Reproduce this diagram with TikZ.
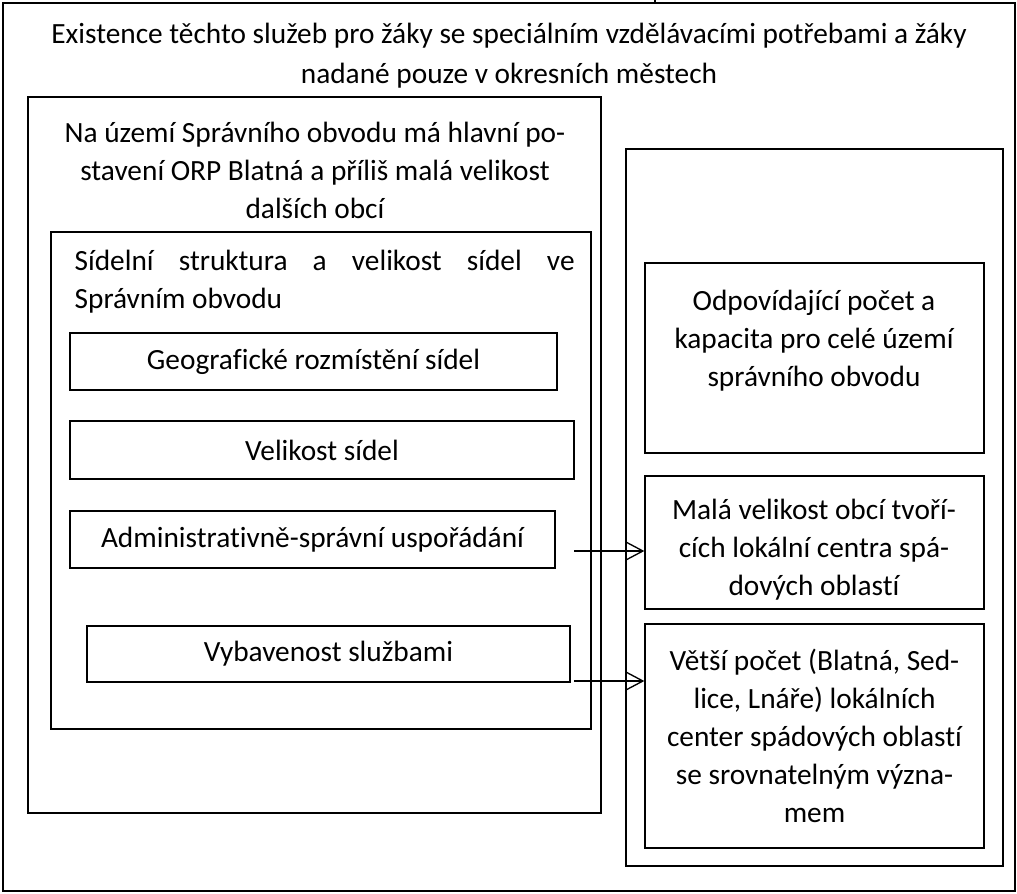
\documentclass[tikz,border=0pt]{standalone}
\usepackage{fontspec}
\setmainfont{Carlito}[Ligatures=CommonOff]
\usepackage{tikz}
\usetikzlibrary{fit, arrows.meta}

\begin{document}
\begin{tikzpicture}[x=0.75pt, y=-0.75pt, line width=1pt,
    font=\fontsize{22}{28.5}\selectfont,
    box/.style={draw, inner sep=0pt},
    txt/.style={inner sep=0pt, align=center},
    arr/.style={-{Straight Barb[length=12.75pt, width=13.5pt]}}]
    \useasboundingbox (0,0) rectangle (1017,893);

    \node[box, fit={(3,3) (1015,891)}] (outer) {};
    \node[txt, font=\fontsize{22}{30}\selectfont](title) at (509,56) {Existence těchto služeb pro žáky se speciálním vzdělávacími potřebami a žáky\\nadané pouze v okresních městech};
    \coordinate (tick) at (655,0);
    \draw (tick) -- (tick |- outer.north);

    \node[box, fit={(28,97) (601,813)}] (orp) {};
    \node[txt](orptext) at (315,170) {Na území Správního obvodu má hlavní po-\\stavení ORP Blatná a příliš malá velikost\\dalších obcí};

    \node[box, fit={(51,232) (591,729)}] (sidla) {};
    \node[txt, anchor=west, align=left](sidlatext) at (74,282) {\makebox[375pt][s]{Sídelní struktura a velikost sídel ve}\\Správním obvodu};

    \node[box, fit={(70,333) (557,390)}] (geo) {};
    \node[txt](geotext) at (geo) {Geografické rozmístění sídel};
    \node[box, fit={(70,421) (574,479)}] (vel) {};
    \node[txt](veltext) at (vel) {Velikost sídel};
    \node[box, fit={(70,511) (555,568)}] (adm) {};
    \node[txt](admtext) at (adm) {Administrativně-správní uspořádání};
    \node[box, fit={(87,626) (570,682)}] (vyb) {};
    \node[txt](vybtext) at (vyb) {Vybavenost službami};

    \node[box, fit={(626,149) (1003,866)}] (right) {};
    \node[box, fit={(645,263) (984,453)}] (kap) {};
    \node[txt](kaptext) at (814,341) {Odpovídající počet a\\kapacita pro celé území\\správního obvodu};
    \node[box, fit={(645,476) (984,609)}] (male) {};
    \node[txt](maletext) at (814,550) {Malá velikost obcí tvoří-\\cích lokální centra spá-\\dových oblastí};
    \node[box, fit={(645,624) (984,848)}] (vetsi) {};
    \node[txt](vetsitext) at (vetsi) {Větší počet (Blatná, Sed-\\lice, Lnáře) lokálních\\center spádových oblastí\\se srovnatelným význa-\\mem};

    \coordinate (a1) at (574,551);
    \coordinate (a2) at (574,681);
    \draw[arr] (a1) -- (a1 -| male.west);
    \draw[arr] (a2) -- (a2 -| vetsi.west);
\end{tikzpicture}
\end{document}
